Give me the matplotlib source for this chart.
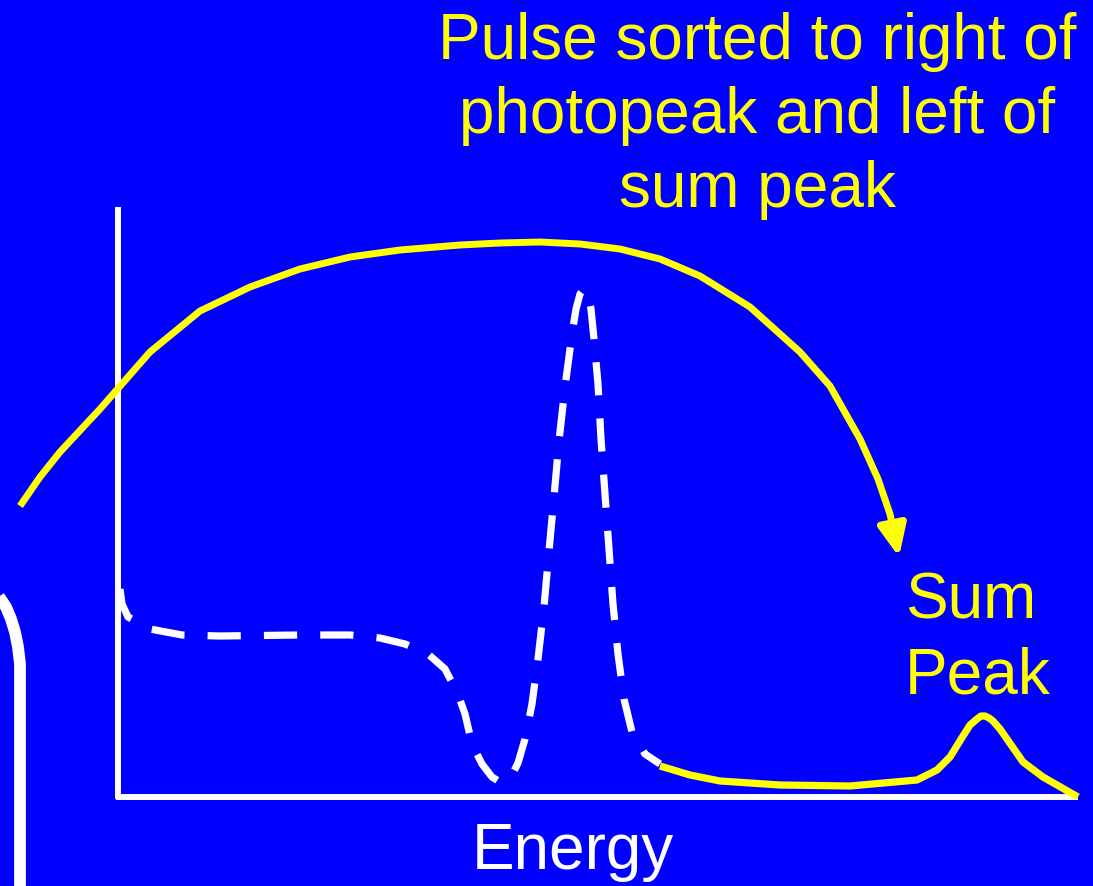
import matplotlib
matplotlib.use("Agg")
import matplotlib.pyplot as plt

plt.rcParams['font.family'] = ['Liberation Sans', 'DejaVu Sans']

# spectrum drawn in picture pixel units (x right, y down)
spec_x = [120, 122, 128, 150, 182, 220, 300, 350, 380, 405, 428, 445, 458, 465,
          472, 482, 492, 500, 506, 512, 518, 525, 532, 538, 544, 549, 554, 559,
          565, 572, 576, 580, 584, 588, 591, 594, 598, 601, 605, 609, 613, 618,
          624, 632, 645, 660]
spec_y = [590, 605, 618, 630, 636, 637, 636, 636, 639, 645, 655, 670, 695, 715,
          745, 765, 778, 783, 782, 776, 764, 740, 705, 660, 608, 552, 498, 442,
          388, 335, 310, 295, 290, 295, 310, 340, 385, 440, 495, 550, 605, 655,
          700, 733, 755, 765]

sum_x = [660, 690, 720, 780, 850, 917, 937, 950, 963, 970, 977, 981, 985, 989,
         993, 1000, 1007, 1023, 1043, 1078]
sum_y = [767, 776, 782, 786, 787, 781, 771, 758, 737, 726, 720, 717, 717, 719,
         722, 730, 740, 763, 778, 798]

arrow_x = [20, 40, 60, 100, 150, 200, 250, 300, 350, 400, 460, 500, 540, 580,
           620, 660, 700, 750, 800, 830, 860, 878, 890]
arrow_y = [507, 478, 453, 410, 353, 312, 288, 270, 258, 251, 246, 244, 243, 245,
           250, 260, 277, 308, 353, 387, 440, 480, 515]

title_text = "Pulse sorted to right of\nphotopeak and left of\nsum peak"
sum_text = "Sum\nPeak"
xlabel_text = "Energy"

BLUE = '#0000FF'
YELLOW = '#FFFF00'

fig = plt.figure(figsize=(10.93, 8.87), dpi=100, facecolor=BLUE)
ax = fig.add_axes([0, 0, 1, 1])
ax.set_facecolor(BLUE)
ax.set_xlim(0, 1093)
ax.set_ylim(887, 0)
ax.axis('off')

# left partial frame (rounded corner)
ax.plot([-2, 6, 11, 15, 18, 20, 20], [596, 608, 620, 633, 648, 665, 890],
        color='white', lw=8.5, solid_capstyle='butt', solid_joinstyle='round')

# axes lines
ax.plot([118, 118], [208, 800], color='white', lw=4.3, solid_capstyle='butt')
ax.plot([116, 1078], [798, 798], color='white', lw=4.3, solid_capstyle='butt')

# dashed spectrum
ax.plot(spec_x, spec_y, color='white', lw=5.2, dashes=(4.6, 3.2),
        dash_capstyle='butt', dash_joinstyle='round')

# yellow tail with sum peak
ax.plot(sum_x, sum_y, color=YELLOW, lw=5.2, solid_capstyle='butt', solid_joinstyle='round')

# arrow curve
ax.plot(arrow_x, arrow_y, color=YELLOW, lw=5, solid_joinstyle='round',
        solid_capstyle='butt')
ax.annotate('', xy=(899, 558), xytext=(arrow_x[-1], arrow_y[-1]),
            arrowprops=dict(arrowstyle='-|>,head_length=1.9,head_width=0.85',
                            color=YELLOW, lw=5, shrinkA=0, shrinkB=0))

ax.text(757, 116, title_text, color=YELLOW, fontsize=46, ha='center', va='center',
        linespacing=1.30)
ax.text(905, 639, sum_text, color=YELLOW, fontsize=46, ha='left', va='center',
        linespacing=1.32)
ax.text(573, 852, xlabel_text, color='white', fontsize=46, ha='center', va='center')

fig.savefig('out.png', dpi=100, facecolor=BLUE)
